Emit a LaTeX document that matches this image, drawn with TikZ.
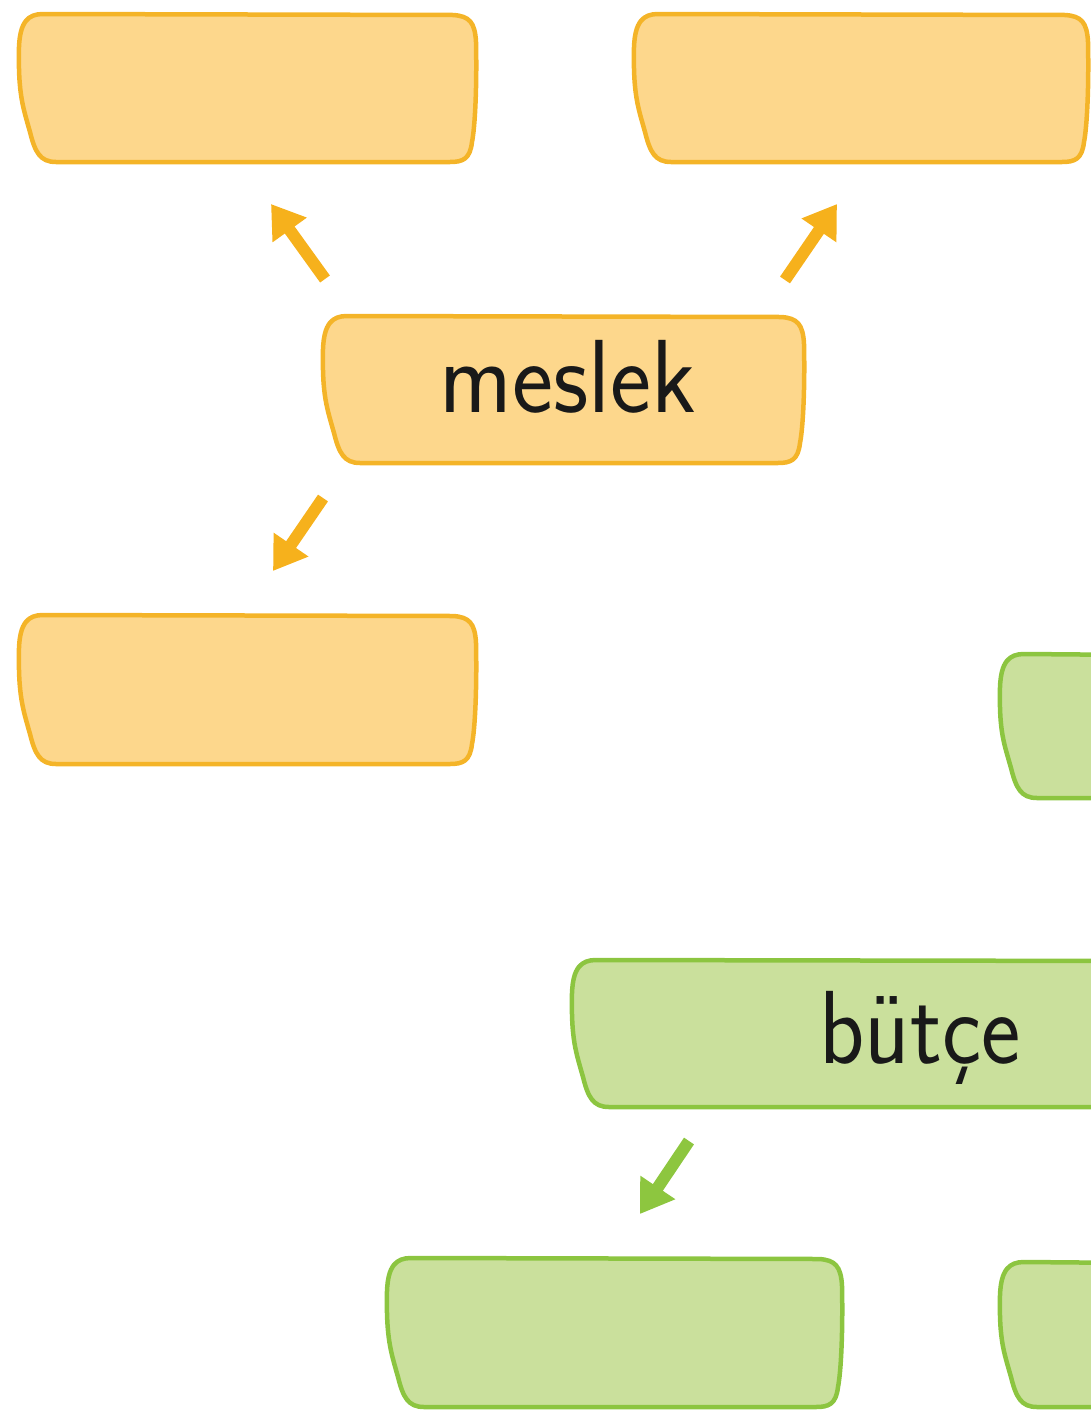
\documentclass[tikz,border=0pt]{standalone}
\usepackage{fontspec}
\usetikzlibrary{arrows.meta}
\definecolor{ofill}{HTML}{FDD78C}
\definecolor{oline}{HTML}{F4B428}
\definecolor{oarrow}{HTML}{F6B11C}
\definecolor{gfill}{HTML}{CAE09C}
\definecolor{gline}{HTML}{8CC540}
\definecolor{garrow}{HTML}{8DC63F}
\tikzset{
  obox/.style={fill=ofill,draw=oline,line width=4.5pt,line join=round},
  gbox/.style={fill=gfill,draw=gline,line width=4.5pt,line join=round},
  oarr/.style={draw=oarrow,line width=12pt,-{Triangle[length=32pt,width=40pt]}},
  garr/.style={draw=garrow,line width=12pt,-{Triangle[length=32pt,width=40pt]}},
  lbl/.style={anchor=base,inner sep=0pt,font=\sffamily\fontsize{104}{104}\selectfont,text=black!90},
  boxname/.style={inner sep=0pt,draw=none}
}
\newcommand{\blob}[6]{%
  \draw[#6] ({#2+25},{#3+2}) -- ({#4-22},{#3+3})
    .. controls ({#4-6},{#3+4}) and ({#4},{#3+10}) .. ({#4+1},{#3+30})
    .. controls ({#4+2},{(#3+#5)/2}) and ({#4},{#5-35}) .. ({#4-3},{#5-20})
    .. controls ({#4-5},{#5-3}) and ({#4-12},{#5}) .. ({#4-25},{#5})
    -- ({#2+38},{#5})
    .. controls ({#2+22},{#5}) and ({#2+17},{#5-10}) .. ({#2+12},{#5-30})
    .. controls ({#2+5},{#5-55}) and ({#2},{#3+0.55*(#5-#3)}) .. ({#2+1},{#3+35})
    .. controls ({#2+2},{#3+10}) and ({#2+10},{#3+2}) .. ({#2+25},{#3+2}) -- cycle;
  \node[boxname,minimum width={(#4-#2)*1pt},minimum height={(#5-#3)*1pt}] (#1) at ({(#2+#4)/2},{(#3+#5)/2}) {};
}
\begin{document}
\begin{tikzpicture}[x=1pt,y=-1pt]
\useasboundingbox (0,0) rectangle (1091,1427);
\clip (0,0) rectangle (1091,1427);
% orange boxes
\blob{otl}{18}{12}{475}{162}{obox}
\blob{otr}{633}{12}{1087}{162}{obox}
\blob{mbox}{322}{314}{803}{463}{obox}
\blob{obl}{18}{613}{475}{764}{obox}
% green boxes
\blob{gmr}{999}{652}{1160}{798}{gbox}
\blob{bbox}{571}{958}{1160}{1107}{gbox}
\blob{gbl}{386}{1256}{841}{1407}{gbox}
\blob{gbr}{999}{1260}{1160}{1407}{gbox}
% labels
\node[lbl] (meslek) at (568,412) {\scalebox{0.94}[1]{meslek}};
\node[lbl] (butce) at (920,1063) {\scalebox{0.90}[1]{bütçe}};
% arrow end points
\coordinate (a1s) at (325,279);
\coordinate (a1e) at (271,204);
\coordinate (a2s) at (785,280);
\coordinate (a2e) at (837,204);
\coordinate (a3s) at (323,498);
\coordinate (a3e) at (273,571);
\coordinate (a4s) at (689,1141);
\coordinate (a4e) at (640,1214);
\draw[oarr] (a1s) -- (a1e);
\draw[oarr] (a2s) -- (a2e);
\draw[oarr] (a3s) -- (a3e);
\draw[garr] (a4s) -- (a4e);
\end{tikzpicture}
\end{document}
